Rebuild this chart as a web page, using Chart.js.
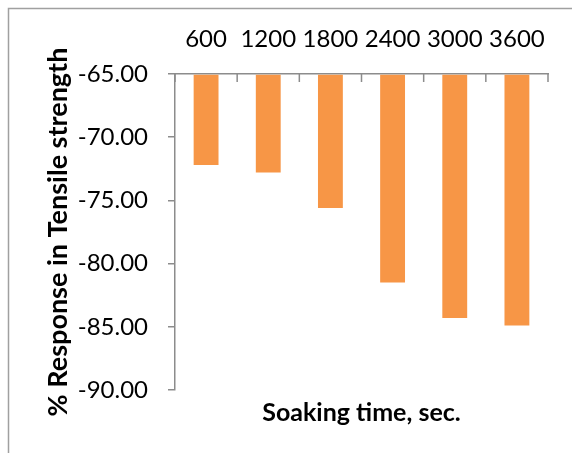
<!DOCTYPE html>
<html>
<head>
<meta charset="utf-8">
<script src="https://cdn.jsdelivr.net/npm/chart.js@4/dist/chart.umd.min.js"></script>
<style>
  html, body { margin: 0; padding: 0; background: #fff; }
  #wrap { width: 572px; height: 453px; position: relative; }
</style>
</head>
<body>
<div id="wrap"><canvas id="c"></canvas></div>
<script>
const categories = ['600', '1200', '1800', '2400', '3000', '3600'];
const responseValues = [-72.2, -72.8, -75.6, -81.5, -84.3, -84.9];
const yAxisTitle = '% Response in Tensile strength';
const xAxisTitle = 'Soaking time, sec.';

const AXIS = '#8c8c8c';
const FONT = 'Lato';

const framePlugin = {
  id: 'frame',
  beforeDraw(chart) {
    const ctx = chart.ctx;
    ctx.save();
    ctx.strokeStyle = '#a0a0a0';
    ctx.lineWidth = 1.5;
    ctx.beginPath();
    ctx.moveTo(8.5, chart.height);
    ctx.lineTo(8.5, 8.5);
    ctx.lineTo(chart.width, 8.5);
    ctx.stroke();
    ctx.restore();
  }
};

const innerTicksPlugin = {
  id: 'innerTicks',
  afterDraw(chart) {
    const xs = chart.scales.x;
    const top = chart.chartArea.top;
    const n = categories.length;
    const half = (xs.getPixelForValue(1) - xs.getPixelForValue(0)) / 2;
    const ctx = chart.ctx;
    ctx.save();
    ctx.strokeStyle = AXIS;
    ctx.lineWidth = 1.5;
    ctx.beginPath();
    for (let i = 0; i <= n; i++) {
      const px = i < n ? xs.getPixelForValue(i) - half : xs.getPixelForValue(n - 1) + half;
      ctx.moveTo(px, top);
      ctx.lineTo(px, top + 8);
    }
    ctx.stroke();
    ctx.restore();
  }
};

new Chart(document.getElementById('c'), {
  type: 'bar',
  data: {
    labels: categories,
    datasets: [{
      data: responseValues,
      base: -65,
      backgroundColor: '#f79646',
      borderWidth: 0,
      barPercentage: 0.4,
      categoryPercentage: 1.0
    }]
  },
  options: {
    responsive: true,
    maintainAspectRatio: false,
    animation: false,
    layout: { padding: { left: 35, top: 0, right: 24, bottom: 0 } },
    plugins: {
      legend: { display: false },
      tooltip: { enabled: false },
      title: {
        display: true,
        text: xAxisTitle,
        position: 'bottom',
        fullSize: false,
        color: '#000',
        font: { family: FONT, size: 25, weight: 'bold' },
        padding: { top: 8, bottom: 25 }
      }
    },
    scales: {
      x: {
        position: 'top',
        grid: { display: false },
        border: { display: true, color: AXIS, width: 1.5 },
        ticks: {
          color: '#000',
          font: { family: FONT, size: 24 },
          padding: 12,
          maxRotation: 0
        },
        afterFit(scale) { scale.height = 74; }
      },
      y: {
        min: -90,
        max: -65,
        grid: {
          drawOnChartArea: false,
          tickLength: 7,
          color: AXIS,
          lineWidth: 1.5
        },
        border: { display: true, color: AXIS, width: 1.5 },
        ticks: {
          stepSize: 5,
          color: '#000',
          font: { family: FONT, size: 24 },
          padding: 20,
          callback: v => Number(v).toFixed(2)
        },
        title: {
          display: true,
          text: yAxisTitle,
          color: '#000',
          font: { family: FONT, size: 27, weight: 'bold' },
          padding: { top: 7, bottom: 0 }
        },
        afterFit(scale) { scale.width = 175 - 35; }
      }
    }
  },
  plugins: [framePlugin, innerTicksPlugin]
});
</script>
</body>
</html>
